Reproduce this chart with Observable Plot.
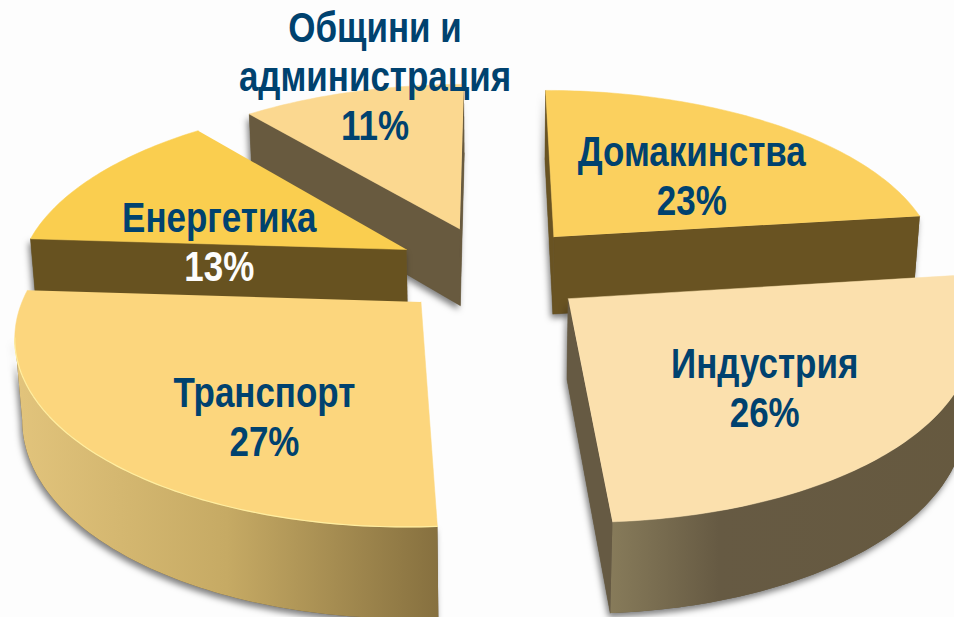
<!DOCTYPE html>
<html><head><meta charset="utf-8">
<script src="https://cdn.jsdelivr.net/npm/d3@7"></script>
<script src="https://cdn.jsdelivr.net/npm/@observablehq/plot@0.6"></script>
<style>html,body{margin:0;padding:0;background:#fdfdfd;overflow:hidden}svg{display:block;background:#fdfdfd}</style>
</head><body><div id="chart"></div>
<script>
// data
const sectors = ["Домакинства","Индустрия","Транспорт","Енергетика","Общини и администрация"];
const shares = [23,26,27,13,11];
const labelLines = [["Домакинства","23%"],["Индустрия","26%"],["Транспорт","27%"],["Енергетика","13%"],["Общини и","администрация","11%"]];
// styles (per sector)
const topColors = ["#fbd05e","#fbe0ad","#fcd67d","#face4f","#fbd890"];
const wallColors = ["#695322","url(#wallIndustry)","url(#wallTransport)","#675220","#685a3f"];
const sideColors = ["#695322","#665a43","#86703f","#675220","#685a3f"];
const labelColors = [["#00426f","#00426f"],["#00426f","#00426f"],["#00426f","#00426f"],["#00426f","#fdfdfd"],["#00426f","#00426f","#00426f"]];
const labelNudge = [[12.5,18.9],[13.4,34.2],[13.6,51.4],[-10.5,48],[-22.4,-58]];
const drawOrder = [4,3,0,2,1];
// 3D view of the pie
const view = {cx:491, cy:269, A:388, B:178.7, k:0.1557, m:0.015, H:80, explode:0.25, labelR:0.55, lineHeight:49, fontSize:42, squeeze:0.832};
const rad = d => d*Math.PI/180;
function project(X,Y,z){
  const d = 1 + view.k*Y + view.m*z;
  return {x: view.cx + view.A*X/d, y: view.cy - (view.B*Y - view.H*z)/d};
}
const total = d3.sum(shares);
let cum = 0;
const slices = shares.map((v,i)=>{
  const a0 = cum/total*360; cum += v; const a1 = cum/total*360;
  const mid = (a0+a1)/2;
  return {i,a0,a1,mid,ox:view.explode*Math.sin(rad(mid)),oy:view.explode*Math.cos(rad(mid))};
});
function world(s,a,r){return [s.ox+r*Math.sin(rad(a)), s.oy+r*Math.cos(rad(a))];}
function arcAngles(s){const out=[];for(let a=s.a0;a<s.a1;a+=1)out.push(a);out.push(s.a1);return out;}
function quad(w0,w1){
  const p=project(w0[0],w0[1],0),q=project(w1[0],w1[1],0),r=project(w1[0],w1[1],1),t=project(w0[0],w0[1],1);
  return [p,q,r,t];
}
function faces(s){
  const apex=[s.ox,s.oy];
  const arc=arcAngles(s).map(a=>world(s,a,1));
  const top=[project(apex[0],apex[1],0),...arc.map(w=>project(w[0],w[1],0))];
  const vis=(a,b)=>project(b[0],b[1],0).x<project(a[0],a[1],0).x;
  const radial=[];
  if(vis(apex,arc[0]))radial.push(quad(apex,arc[0]));
  if(vis(arc[arc.length-1],apex))radial.push(quad(arc[arc.length-1],apex));
  let run=[];const runs=[];
  for(let j=0;j<arc.length-1;j++){
    if(vis(arc[j],arc[j+1])){ if(!run.length)run.push(arc[j]); run.push(arc[j+1]); }
    else if(run.length){runs.push(run);run=[];}
  }
  if(run.length)runs.push(run);
  const outer=runs.map(r=>[...r.map(w=>project(w[0],w[1],0)),...r.slice().reverse().map(w=>project(w[0],w[1],1))]);
  const rim=runs.map(r=>r.map(w=>project(w[0],w[1],0)));
  return {top,radial,outer,rim};
}
const defs = () => {
  const d=d3.create("svg:defs");
  const g=(id,stops)=>{const l=d.append("linearGradient").attr("id",id);
    stops.forEach(([o,c])=>l.append("stop").attr("offset",o).attr("stop-color",c));};
  g("wallTransport",[[0,"#e2c47c"],[0.5,"#c6aa64"],[1,"#86703f"]]);
  g("wallIndustry",[[0,"#877b5a"],[0.3,"#665a43"],[1,"#66593f"]]);
  return d.node();
};
const poly=(pts,fill)=>Plot.line(pts,{x:"x",y:"y",fill,stroke:fill.startsWith("url")?"none":fill,strokeWidth:0.5});
const marks=[defs];
for(const i of drawOrder){
  const s=slices[i],f=faces(s);
  const walls=[...f.outer,...f.radial];
  // shadow-casting silhouette
  const sil=walls.flatMap((w,k)=>w.map(p=>({...p,k})));
  if(sil.length) marks.push(Plot.line(sil,{x:"x",y:"y",z:"k",fill:"#665a43",stroke:"none",imageFilter:"drop-shadow(-2px 4px 3px rgba(0,0,0,0.5))"}));
  f.outer.forEach(w=>marks.push(poly(w,wallColors[i])));
  f.radial.forEach(w=>marks.push(poly(w,sideColors[i])));
  marks.push(poly(f.top,topColors[i]));
  if(i===2) f.rim.forEach(r=>marks.push(Plot.line(r,{x:"x",y:"y",stroke:"#ffeea0",strokeWidth:1.2})));
}
// labels
const rows=slices.flatMap(s=>{
  const w=world(s,s.mid,view.labelR),p=project(w[0],w[1],0);
  const L=labelLines[s.i],n=L.length;
  return L.map((t,j)=>({text:t,x:p.x+labelNudge[s.i][0],y:p.y+labelNudge[s.i][1]+(j-(n-1)/2)*view.lineHeight,color:labelColors[s.i][j]}));
});
for(const c of new Set(rows.map(r=>r.color))){
  marks.push(Plot.text(rows.filter(r=>r.color===c),{x:"x",y:"y",text:"text",fill:c,fontSize:view.fontSize,fontWeight:"bold",fontFamily:"'Liberation Sans',Arial,sans-serif",dy:-13.4,className:"lbl"}));
}
const plot=Plot.plot({width:954,height:617,margin:0,
  style:{background:"#fdfdfd"},
  x:{domain:[0,954],range:[0,954],axis:null},
  y:{domain:[0,617],range:[0,617],axis:null},
  marks});
document.getElementById("chart").append(plot);
// the reference's lettering is horizontally condensed
plot.querySelectorAll("text").forEach(t=>{
  const L=t.getComputedTextLength();
  t.setAttribute("textLength",L*view.squeeze);
  t.setAttribute("lengthAdjust","spacingAndGlyphs");
});
</script></body></html>
